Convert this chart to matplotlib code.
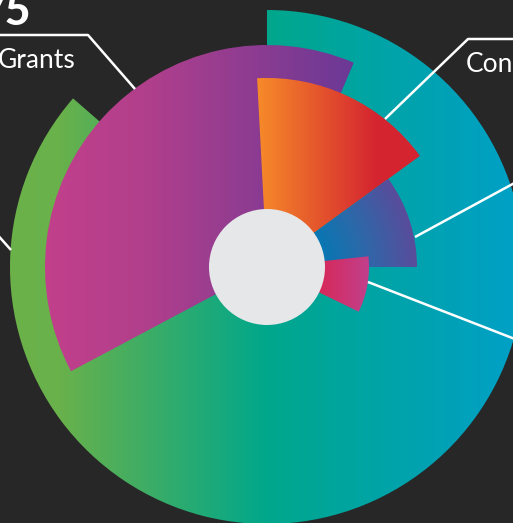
import numpy as np
import matplotlib
matplotlib.use("Agg")
import matplotlib.pyplot as plt
from matplotlib.patches import Wedge, Circle
from matplotlib.colors import to_rgb

# ---------------- data ----------------
labels = ["Total", "Grants", "Contracts", "Other", "Misc"]
start_deg = [0, 242, 357, 54, 84]      # clockwise from 12 o'clock
end_deg = [311, 383, 414, 90, 116]
radii = [257, 222, 189, 150, 102]
hole_radius = 58
headline_number = "75"

# ---------------- layout ----------------
W, H = 513, 523
cx, cy = 267, H - 267
BG = "#272727"

fig = plt.figure(figsize=(W / 100, H / 100), dpi=100, facecolor=BG)
ax = fig.add_axes([0, 0, 1, 1])
ax.set_xlim(0, W)
ax.set_ylim(0, H)
ax.set_aspect("auto")
ax.axis("off")
ax.set_facecolor(BG)

xs = np.arange(W) + 0.5
ys = np.arange(H) + 0.5
XX, YY = np.meshgrid(xs, ys)   # YY: pixel rows from top


def linear_grad(stops):
    pos = [p for p, _ in stops]
    cols = np.array([to_rgb(c) for _, c in stops])
    img = np.zeros((H, W, 3))
    for k in range(3):
        img[:, :, k] = np.interp(XX, pos, cols[:, k])
    return img


def radial_grad(stops):
    R = np.hypot(XX - cx, YY - (H - cy))
    pos = [p for p, _ in stops]
    cols = np.array([to_rgb(c) for _, c in stops])
    img = np.zeros((H, W, 3))
    for k in range(3):
        img[:, :, k] = np.interp(R, pos, cols[:, k])
    return img


grads = [
    linear_grad([(10, "#6bb24a"), (60, "#69b14b"), (267, "#00a78b"), (513, "#00a0c6")]),
    linear_grad([(45, "#c2408b"), (150, "#b03f8c"), (355, "#6a3996")]),
    linear_grad([(257, "#f68b29"), (375, "#d52530"), (420, "#d42430")]),
    radial_grad([(60, "#0a76b2"), (95, "#2a6aaa"), (150, "#5a4c9b")]),
    linear_grad([(320, "#d7295a"), (369, "#c1408c")]),
]

for a0, a1, r, img in zip(start_deg, end_deg, radii, grads):
    w = Wedge((cx, cy), r, 90 - a1, 90 - a0, facecolor="none", edgecolor="none")
    ax.add_patch(w)
    im = ax.imshow(img, extent=(0, W, 0, H), origin="upper", interpolation="bilinear", zorder=2)
    im.set_clip_path(w)

ax.add_patch(Circle((cx, cy), hole_radius, facecolor="#e6e7e9", edgecolor="none", zorder=5))

# leader lines (pixel coords from top)
leaders = [
    [(-5, 35), (88, 35), (135, 89)],
    [(385, 119), (468, 39), (520, 39)],
    [(415, 237), (520, 180)],
    [(368, 282), (520, 341)],
    [(-5, 232), (11, 250)],
]
for pts in leaders:
    px = [p[0] for p in pts]
    py = [H - p[1] for p in pts]
    ax.plot(px, py, color="white", lw=1.8, zorder=6, solid_capstyle="butt")

ax.text(31, H - 25, headline_number, color="white", fontsize=32, fontweight="black",
        family="Lato", ha="right", va="baseline", zorder=7)
ax.text(-2, H - 68, "Grants", color="white", fontsize=19, family="Lato",
        ha="left", va="baseline", zorder=7)
ax.text(466, H - 72, "Contracts", color="white", fontsize=19, family="Lato",
        ha="left", va="baseline", zorder=7)

fig.savefig("out.png", dpi=100, facecolor=BG)
